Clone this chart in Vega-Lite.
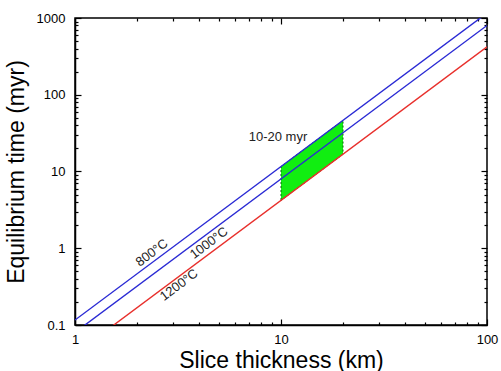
{
  "$schema": "https://vega.github.io/schema/vega-lite/v6.json",
  "width": 412,
  "height": 307,
  "autosize": {"type": "none"},
  "padding": {"left": 75, "top": 18, "right": 14, "bottom": 46},
  "background": "white",
  "config": {
    "font": "Liberation Sans",
    "view": {"stroke": "black", "strokeWidth": 1.5},
    "axis": {
      "grid": false,
      "domainColor": "black",
      "domainWidth": 1.5,
      "tickColor": "black",
      "tickWidth": 1.2,
      "labelColor": "black",
      "labelFontSize": 13,
      "titleColor": "black",
      "titleFontSize": 23,
      "titleFontWeight": "normal"
    }
  },
  "datasets": {
    "curves": [
      {"thickness": 1, "time": 0.116, "temp": "800°C"},
      {"thickness": 100, "time": 1160, "temp": "800°C"},
      {"thickness": 1, "time": 0.08, "temp": "1000°C"},
      {"thickness": 100, "time": 800, "temp": "1000°C"},
      {"thickness": 1, "time": 0.042, "temp": "1200°C"},
      {"thickness": 100, "time": 420, "temp": "1200°C"}
    ],
    "window": [
      {"thickness": 10, "low": 4.2, "high": 11.6},
      {"thickness": 20, "low": 16.8, "high": 46.4}
    ],
    "labels": [
      {"thickness": 2.36, "time": 0.87, "text": "800°C", "angle": -36.7},
      {"thickness": 4.47, "time": 1.17, "text": "1000°C", "angle": -36.7},
      {"thickness": 3.2, "time": 0.332, "text": "1200°C", "angle": -36.7},
      {"thickness": 9.67, "time": 28, "text": "10-20 myr", "angle": 0}
    ]
  },
  "resolve": {"axis": {"x": "independent", "y": "independent"}},
  "layer": [
    {
      "data": {"name": "window"},
      "mark": {"type": "area", "color": "#11ee11", "opacity": 1, "stroke": "#0a6a0a", "strokeWidth": 1, "strokeDash": [2, 2], "clip": true},
      "encoding": {
        "x": {
          "field": "thickness", "type": "quantitative",
          "scale": {"type": "log", "domain": [1, 100], "nice": false},
          "axis": {
            "orient": "bottom",
            "title": "Slice thickness (km)",
            "titlePadding": 0,
            "values": [1, 2, 3, 4, 5, 6, 7, 8, 9, 10, 20, 30, 40, 50, 60, 70, 80, 90, 100],
            "format": "~g",
            "labelExpr": "indexof([1, 10, 100], datum.value) >= 0 ? datum.label : ''",
            "labelPadding": 14,
            "labelFlush": false,
            "labelOverlap": false,
            "tickSize": {"condition": {"test": "indexof([1, 10, 100], datum.value) >= 0", "value": -6}, "value": -3}
          }
        },
        "y": {
          "field": "low", "type": "quantitative",
          "scale": {"type": "log", "domain": [0.1, 1000], "nice": false},
          "axis": {
            "orient": "left",
            "title": "Equilibrium time (myr)",
            "titlePadding": 8,
            "values": [0.1, 0.2, 0.3, 0.4, 0.5, 0.6, 0.7, 0.8, 0.9, 1, 2, 3, 4, 5, 6, 7, 8, 9, 10, 20, 30, 40, 50, 60, 70, 80, 90, 100, 200, 300, 400, 500, 600, 700, 800, 900, 1000],
            "format": "~g",
            "labelExpr": "abs(log(datum.value) / LN10 - round(log(datum.value) / LN10)) < 1e-6 ? datum.label : ''",
            "labelPadding": 16,
            "labelFlush": false,
            "labelOverlap": false,
            "tickSize": {"condition": {"test": "abs(log(datum.value) / LN10 - round(log(datum.value) / LN10)) < 1e-6", "value": -6}, "value": -3}
          }
        },
        "y2": {"field": "high"}
      }
    },
    {
      "data": {"name": "curves"},
      "mark": {"type": "line", "strokeWidth": 1.4, "clip": true},
      "encoding": {
        "x": {
          "field": "thickness", "type": "quantitative",
          "scale": {"type": "log", "domain": [1, 100], "nice": false},
          "axis": {
            "orient": "top",
            "title": null,
            "labels": false,
            "domain": false,
            "values": [1, 2, 3, 4, 5, 6, 7, 8, 9, 10, 20, 30, 40, 50, 60, 70, 80, 90, 100],
            "tickSize": {"condition": {"test": "indexof([1, 10, 100], datum.value) >= 0", "value": -6}, "value": -3}
          }
        },
        "y": {
          "field": "time", "type": "quantitative",
          "scale": {"type": "log", "domain": [0.1, 1000], "nice": false},
          "axis": {
            "orient": "right",
            "title": null,
            "labels": false,
            "domain": false,
            "values": [0.1, 0.2, 0.3, 0.4, 0.5, 0.6, 0.7, 0.8, 0.9, 1, 2, 3, 4, 5, 6, 7, 8, 9, 10, 20, 30, 40, 50, 60, 70, 80, 90, 100, 200, 300, 400, 500, 600, 700, 800, 900, 1000],
            "tickSize": {"condition": {"test": "abs(log(datum.value) / LN10 - round(log(datum.value) / LN10)) < 1e-6", "value": -6}, "value": -3}
          }
        },
        "color": {
          "field": "temp", "type": "nominal", "legend": null,
          "scale": {"domain": ["800°C", "1000°C", "1200°C"], "range": ["#2a2ad4", "#2a2ad4", "#e8302c"]}
        }
      }
    },
    {
      "data": {"name": "labels"},
      "mark": {"type": "text", "fontSize": 13, "color": "#222222", "align": "center", "baseline": "middle"},
      "encoding": {
        "x": {"field": "thickness", "type": "quantitative", "scale": {"type": "log", "domain": [1, 100], "nice": false}, "axis": null},
        "y": {"field": "time", "type": "quantitative", "scale": {"type": "log", "domain": [0.1, 1000], "nice": false}, "axis": null},
        "text": {"field": "text"},
        "angle": {"field": "angle", "type": "quantitative", "scale": null}
      }
    }
  ]
}
